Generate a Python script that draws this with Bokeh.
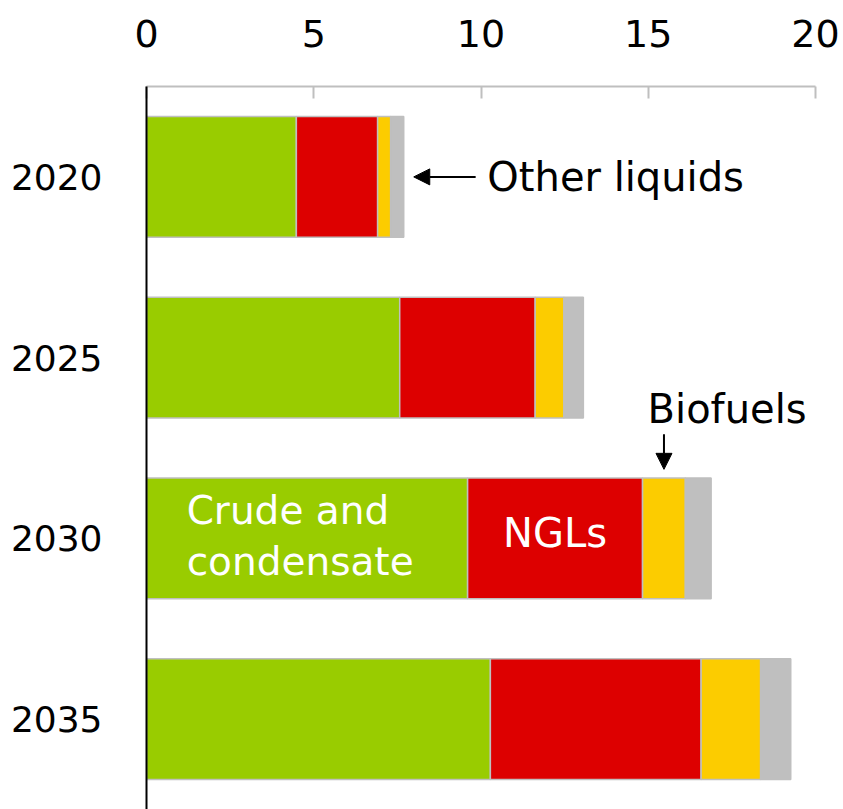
from bokeh.plotting import figure
from bokeh.models import (Range1d, FixedTicker, ColumnDataSource, Label, Arrow,
                          NormalHead)
from bokeh.embed import file_html
from bokeh.resources import INLINE

# ---- data ----
years = ["2020", "2025", "2030", "2035"]
crude = [4.48, 7.57, 9.60, 10.28]
ngls = [2.43, 4.05, 5.23, 6.30]
biofuels = [0.39, 0.86, 1.28, 1.78]
other = [0.39, 0.58, 0.77, 0.90]
x_ticks = [0, 5, 10, 15, 20]
series = ["crude", "ngls", "biofuels", "other"]
colors = ["#99cc00", "#dd0000", "#fccc00", "#bfbfbf"]

ypos = [i + 0.5 for i in range(len(years))]
src = ColumnDataSource(dict(y=ypos, crude=crude, ngls=ngls,
                            biofuels=biofuels, other=other))

FONT = "DejaVu Sans"

p = figure(width=843, height=809,
           x_range=Range1d(x_ticks[0], x_ticks[-1]),
           y_range=Range1d(len(years), 0),
           x_axis_location="above",
           output_backend="svg", toolbar_location=None,
           min_border_left=146, min_border_right=28,
           min_border_top=86, min_border_bottom=0)

p.hbar_stack(series, y="y", height=0.667, fill_color=colors,
             line_color="#bfbfbf", line_width=1.5, source=src)

# grids / outline
p.xgrid.visible = False
p.ygrid.visible = False
p.outline_line_color = None
p.background_fill_color = "white"
p.border_fill_color = "white"

# top axis
xa = p.xaxis[0]
xa.ticker = FixedTicker(ticks=x_ticks)
xa.axis_line_color = "#bfbfbf"
xa.axis_line_width = 2
xa.major_tick_in = 12
xa.major_tick_out = 0
xa.major_tick_line_color = "#bfbfbf"
xa.major_tick_line_width = 2
xa.minor_tick_line_color = None
xa.major_label_text_font = FONT
xa.major_label_text_font_size = "38px"
xa.major_label_text_color = "black"
xa.major_label_standoff = 40

# left axis
ya = p.yaxis[0]
ya.ticker = FixedTicker(ticks=ypos)
ya.major_label_overrides = {y: lab for y, lab in zip(ypos, years)}
ya.axis_line_color = "black"
ya.axis_line_width = 2
ya.major_tick_line_color = None
ya.minor_tick_line_color = None
ya.major_label_text_font = FONT
ya.major_label_text_font_size = "36px"
ya.major_label_text_color = "black"
ya.major_label_standoff = 38

# ---- annotations ----
tot0 = crude[0] + ngls[0] + biofuels[0] + other[0]
p.add_layout(Arrow(end=NormalHead(size=16, fill_color="black", line_color="black"),
                   x_start=tot0 + 2.15, y_start=ypos[0],
                   x_end=tot0 + 0.3, y_end=ypos[0],
                   line_color="black", line_width=2))
p.add_layout(Label(x=tot0 + 2.5, y=ypos[0], text="Other liquids",
                   text_font=FONT, text_font_size="40px", text_color="black",
                   text_baseline="middle", text_align="left"))

i = 2
bio_mid = crude[i] + ngls[i] + biofuels[i] / 2
p.add_layout(Arrow(end=NormalHead(size=16, fill_color="black", line_color="black"),
                   x_start=bio_mid, y_start=ypos[i] - 0.576,
                   x_end=bio_mid, y_end=ypos[i] - 0.382,
                   line_color="black", line_width=2))
p.add_layout(Label(x=crude[i] + ngls[i] + 0.15, y=ypos[i] - 0.715, text="Biofuels",
                   text_font=FONT, text_font_size="40px", text_color="black",
                   text_baseline="middle", text_align="left"))

p.add_layout(Label(x=1.2, y=ypos[i] - 0.155, text="Crude and",
                   text_font=FONT, text_font_size="39px", text_color="white",
                   text_baseline="middle", text_align="left"))
p.add_layout(Label(x=1.2, y=ypos[i] + 0.127, text="condensate",
                   text_font=FONT, text_font_size="39px", text_color="white",
                   text_baseline="middle", text_align="left"))
p.add_layout(Label(x=crude[i] + ngls[i] / 2, y=ypos[i] - 0.028, text="NGLs",
                   text_font=FONT, text_font_size="40px", text_color="white",
                   text_baseline="middle", text_align="center"))

open("out.html", "w").write(file_html(p, INLINE))
